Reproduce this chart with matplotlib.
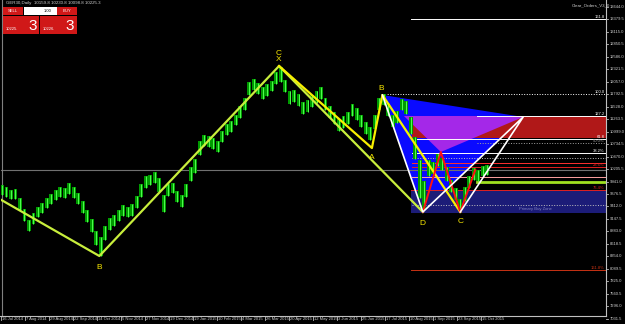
"""
GER30 daily chart with harmonic pattern overlay (MT4 style, black background).
"""

import numpy as np
import matplotlib.pyplot as plt
from matplotlib.patches import Rectangle, Polygon

plt.rcParams.update({
    "font.family": ["Liberation Sans Narrow", "Liberation Sans"],
    "font.size": 5,
})

# daily bars grouped by 3 sessions, starting 16 Jul 2014
highs = [9870, 9830, 9760, 9790, 9600, 9350, 9120, 9280, 9400, 9490,
         9590, 9680, 9760, 9830, 9800, 9900, 9830, 9700, 9530, 9340,
         9150, 8900, 8760, 9000, 9160, 9240, 9340, 9450, 9410, 9460,
         9640, 9880, 10050, 10080, 10150, 10010, 9650, 9880, 9920, 9750,
         9650, 9890, 10240, 10420, 10790, 10930, 10910, 10870, 10810, 11020,
         11150, 11230, 11360, 11540, 11720, 12060, 12120, 12040, 11940, 12000,
         12080, 12260, 12360, 12100, 11850, 11880, 11790, 11630, 11660, 11770,
         11850, 11950, 11710, 11540, 11410, 11260, 11320, 11410, 11580, 11490,
         11350, 11200, 11100, 11350, 11720, 11790, 11600, 11360, 11430, 11700,
         11640, 11300, 10880, 10400, 9950, 10400, 10360, 10530, 10440, 10240,
         9980, 9810, 9580, 9830, 10060, 10220, 10190, 10280, 10290]
lows = [9650, 9610, 9560, 9560, 9330, 9110, 8900, 9050, 9180, 9270,
        9370, 9460, 9540, 9610, 9590, 9670, 9600, 9470, 9280, 9080,
        8880, 8590, 8360, 8700, 8920, 9000, 9110, 9220, 9180, 9220,
        9380, 9620, 9810, 9860, 9920, 9720, 9300, 9630, 9690, 9510,
        9400, 9620, 9960, 10130, 10500, 10700, 10680, 10640, 10570, 10780,
        10920, 11000, 11130, 11290, 11450, 11780, 11890, 11800, 11690, 11760,
        11850, 12010, 12050, 11830, 11580, 11620, 11540, 11370, 11420, 11530,
        11610, 11690, 11450, 11290, 11160, 11010, 11080, 11170, 11330, 11250,
        11100, 10950, 10820, 11060, 11450, 11560, 11320, 11090, 11190, 11460,
        11370, 10950, 10420, 9600, 9340, 10050, 10090, 10270, 10180, 9960,
        9710, 9540, 9330, 9520, 9800, 9980, 9960, 10050, 10080]

date_labels = ["16 Jul 2014", "7 Aug 2014", "29 Aug 2014", "22 Sep 2014",
               "14 Oct 2014", "5 Nov 2014", "27 Nov 2014", "19 Dec 2014",
               "19 Jan 2015", "10 Feb 2015", "4 Mar 2015", "26 Mar 2015",
               "20 Apr 2015", "12 May 2015", "3 Jun 2015", "25 Jun 2015",
               "17 Jul 2015", "10 Aug 2015", "1 Sep 2015", "23 Sep 2015",
               "15 Oct 2015"]

price_ticks = [7031.5, 7296.0, 7560.5, 7825.0, 8089.5, 8354.0, 8618.5,
               8883.0, 9147.5, 9412.0, 9676.5, 9941.0, 10205.5, 10470.0,
               10734.5, 10999.0, 11263.5, 11528.0, 11792.5, 12057.0,
               12321.5, 12586.0, 12850.5, 13115.0, 13379.5, 13644.0]

# big zigzag (bar index, price)
zz_bar = [-1, 65, 185, 281]
zz_price = [9560, 8362, 12390, 9295]

# XABC legs of the harmonic pattern
pat_bar = [185, 247, 254, 306]
pat_price = [12390, 10651, 11775, 9295]

# inner red swing
red_bar = [281, 293, 306, 316]
red_price = [9295, 10567, 9295, 10185]

# projected completion point
proj_bar = 348
proj_price = 11309

# zones and fibo levels: price, first bar, colour, style, label
sell_zone = (10863, 11330)
buy_zone = (9273, 9761)
zone_start = 274
levels = [
    (13386, 273, "white", "-", "161.8"),
    (11796, 254, "white", ":", "100.0"),
    (11330, 317, "white", "-", "127.2"),
    (10842, 274, "white", "-", "61.8"),
    (10757, 317, "#a0a0a0", ":", "50.0%"),
    (10545, 274, "white", "-", "38.2%"),
    (10439, 274, "#c0c0c0", ":", ""),
    (10333, 274, "#ff3030", "-", ""),
    (10249, 274, "#e02020", "-", "23.6%"),
    (10037, 274, "#ffa0a0", "-", ""),
    (9761, 273, "#e02020", "-", "76.4%"),
    (9443, 274, "#c0c0c0", ":", ""),
    (8065, 273, "#c83214", "-", "161.8%"),
]
bid = 10185

fig = plt.figure(figsize=(6.25, 3.24), dpi=100, facecolor="black")
ax = fig.add_axes([0.0016, 8 / 324, 605 / 625, 316 / 324])
ax.set_facecolor("black")

xmax = 403.3
ax.set_xlim(-0.67, xmax)
ax.set_ylim(7090, 13789)

B = [pat_bar[2], pat_price[2]]
D = [zz_bar[3], zz_price[3]]
P = [red_bar[1], red_price[1]]
R = [proj_bar, proj_price]

# zones
ax.add_patch(Polygon([B, D, R], closed=True, facecolor="#0a0aff",
                     edgecolor="none", zorder=1))
ax.add_patch(Rectangle((zone_start, sell_zone[0]), xmax - zone_start,
                       sell_zone[1] - sell_zone[0], facecolor="#b01818",
                       edgecolor="none", zorder=1.2))
purple = Polygon([B, P, R], closed=True, facecolor="#a428e8",
                 edgecolor="none", zorder=1.4)
ax.add_patch(purple)
clip = Rectangle((-10, 0), 500, sell_zone[1], transform=ax.transData)
purple.set_clip_path(clip)
ax.add_patch(Rectangle((zone_start - 1, buy_zone[0]), xmax - zone_start + 1,
                       buy_zone[1] - buy_zone[0], facecolor="#1c1c78",
                       edgecolor="none", zorder=1))

for price, start, color, ls, label in levels:
    ax.plot([start, xmax], [price, price], color=color, ls=ls, lw=0.7, zorder=2)
    if label:
        ax.text(xmax - 1, price, label, color=color, fontsize=3.0,
                ha="right", va="bottom", zorder=5)
ax.plot([317, xmax], [9931, 9931], color="#a0e020", lw=2, zorder=2)
ax.text(345, 9330, "Primary Buy Zone", color="#8080c0", fontsize=3.0, zorder=5)

ax.axhline(bid, color="#707070", lw=0.8, zorder=1)

# bars
idx = np.arange(len(highs)) * 3
h = np.array(highs)
l = np.array(lows)
ax.bar(idx, h - l, bottom=l, width=2.6, color="#009a00", zorder=3)
ax.vlines(idx, l, h, color="#50ff50", lw=0.7, zorder=3)

# pattern lines
ax.plot(zz_bar, zz_price, color="#c8ee3c", lw=1.6, zorder=4)
ax.plot(pat_bar, pat_price, color="#f8f000", lw=1.6, zorder=4)
ax.plot(red_bar, red_price, color="#ff1010", lw=1.4, zorder=4)
ax.plot([B[0], D[0], R[0], pat_bar[3]], [B[1], D[1], R[1], pat_price[3]],
        color="white", lw=1.2, zorder=4)

lab_kw = dict(color="#f8e800", fontsize=6, ha="center", zorder=6,
              family="Liberation Sans")
ax.text(zz_bar[1], zz_price[1] - 160, "B", va="top", **lab_kw)
ax.text(zz_bar[2], zz_price[2] + 60, "C\nX", va="bottom", linespacing=0.8, **lab_kw)
ax.text(pat_bar[1], pat_price[1] - 120, "A", va="top", **lab_kw)
ax.text(pat_bar[2] - 1, pat_price[2] + 60, "B", va="bottom", **lab_kw)
ax.text(zz_bar[3], zz_price[3] - 160, "D", va="top", **lab_kw)
ax.text(pat_bar[3], pat_price[3] - 120, "C", va="top", **lab_kw)

# axes decoration
for s in ["top", "left", "bottom"]:
    ax.spines[s].set_visible(False)
ax.spines["right"].set_color("#c0c0c0")
ax.spines["right"].set_linewidth(0.8)
ax.axvline(0.0, color="#808080", lw=0.8)
ax.set_xticks([])
ax.set_yticks([])

for t in price_ticks:
    ax.text(xmax + 2.5, t, f"{t:.1f}", color="#d0d0d0", fontsize=3.0,
            va="center", ha="left", clip_on=False)
    ax.plot([xmax, xmax + 1.2], [t, t], color="#c0c0c0", lw=0.6, clip_on=False)

fig.add_artist(plt.Line2D([0, 606 / 625], [8 / 324, 8 / 324], color="#c0c0c0", lw=0.8))
for i, lab in enumerate(date_labels):
    x = (1 + 24 * i) / 625
    fig.add_artist(plt.Line2D([x, x], [4 / 324, 8 / 324], color="#c0c0c0", lw=0.6))
    fig.text(x + 1 / 625, 5 / 324, lab, color="#d0d0d0", fontsize=3.0, va="center")

# header and trade panel
fig.text(6 / 625, 1 - 3 / 324, "GER30,Daily  10159.8 10230.8 10098.8 10225.3",
         color="#d0d0d0", fontsize=3.2, va="center")
fig.text(572 / 625, 1 - 5 / 324, "Clear_Orders_V3_0", color="#d0d0d0",
         fontsize=3.2, va="center")


def box(x0, y0, w, hgt, color):
    fig.add_artist(Rectangle((x0 / 625, 1 - (y0 + hgt) / 324), w / 625, hgt / 324,
                             transform=fig.transFigure, facecolor=color,
                             edgecolor="none"))


box(3, 7, 20, 8, "#d01818")
box(24, 7, 34, 8, "white")
box(57, 7, 20, 8, "#d01818")
box(3, 16, 36, 18, "#d01818")
box(40, 16, 37, 18, "#d01818")
fig.text(13 / 625, 1 - 11 / 324, "SELL", color="white", fontsize=3.0, ha="center", va="center")
fig.text(67 / 625, 1 - 11 / 324, "BUY", color="white", fontsize=3.0, ha="center", va="center")
fig.text(52 / 625, 1 - 11 / 324, "1.00", color="black", fontsize=3.0, ha="right", va="center")
fig.text(6 / 625, 1 - 29 / 324, "10225.", color="white", fontsize=3.0, va="center")
fig.text(28 / 625, 1 - 26 / 324, "3", color="white", fontsize=11, va="center")
fig.text(43 / 625, 1 - 29 / 324, "10226.", color="white", fontsize=3.0, va="center")
fig.text(65 / 625, 1 - 26 / 324, "3", color="white", fontsize=11, va="center")

fig.savefig("out.png", dpi=100, facecolor="black")
